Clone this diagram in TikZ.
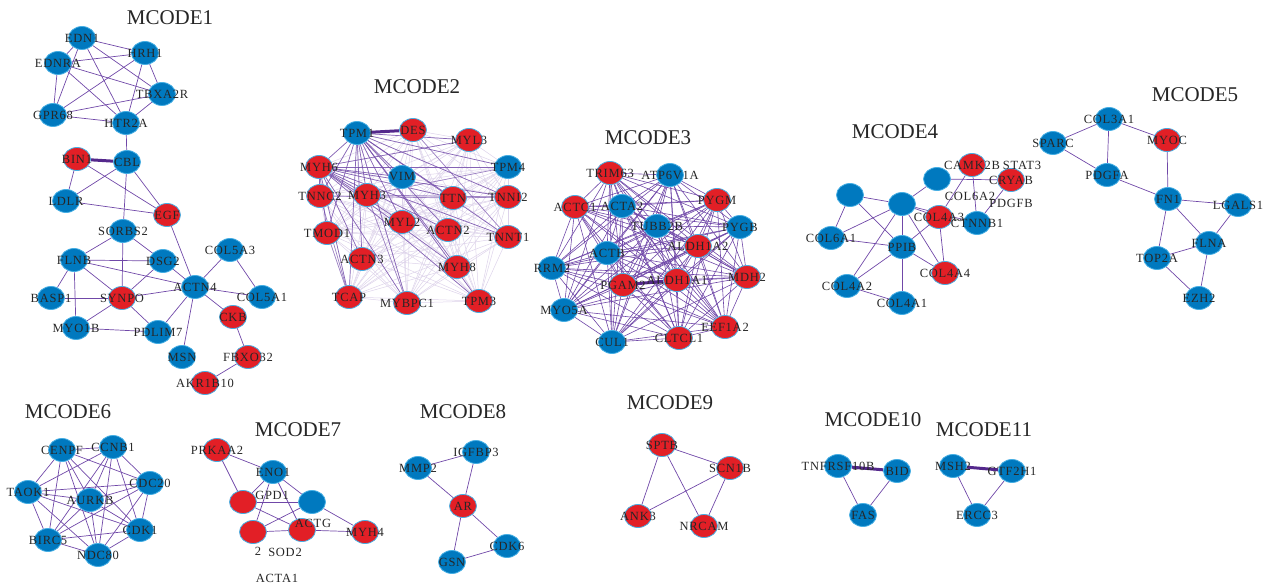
\documentclass[tikz,border=0pt]{standalone}
\usepackage{fontspec}
\setmainfont{Liberation Serif}
\newfontfamily\genefamily[LetterSpace=6]{Liberation Serif}
\newcommand\genefont{\genefamily\fontsize{12.5}{13}\selectfont}
\newcommand\titlefont{\fontsize{21}{24}\selectfont}
\usepackage{tikz}
\usetikzlibrary{shapes.geometric}
\definecolor{nodeblue}{RGB}{0,121,191}
\definecolor{nodered}{RGB}{226,31,38}
\definecolor{nodering}{RGB}{70,175,228}
\definecolor{linkpurple}{RGB}{112,72,168}
\definecolor{linkdark}{RGB}{84,40,140}
\pgfdeclarelayer{bg}
\pgfdeclarelayer{fg}
\pgfsetlayers{bg,main,fg}
\tikzset{
  bn/.style={ellipse, draw=nodering, line width=0.8pt, fill=nodeblue, minimum width=27pt, minimum height=23pt, inner sep=0pt},
  rn/.style={bn, fill=nodered},
  gene/.style={font=\genefont, text=black!85, inner sep=0pt},
  link/.style={draw=linkpurple, line width=0.7pt},
  boldlink/.style={draw=linkdark, line width=3pt},
  faint/.style={draw=linkpurple!24, line width=0.5pt},
  mtitle/.style={font=\titlefont, text=black!85, inner sep=0pt}
}

\begin{document}
\begin{tikzpicture}[x=1pt, y=-1pt]
    \useasboundingbox (0,0) rectangle (1268,588);

    % titles
    \foreach \t/\x/\y in {MCODE1/170/18, MCODE2/417/87, MCODE3/648/138, MCODE4/895/132, MCODE5/1195/95, MCODE6/68/412, MCODE7/298/430, MCODE8/463/412, MCODE9/670/403, MCODE10/873/420, MCODE11/984/430}
        \node[mtitle] (\t) at (\x,\y) {\t};

    % genes
    \foreach \g/\x/\y/\s in {
        EDN1/82/38/bn, HRH1/145/53/bn, EDNRA/58/63/bn, TBXA2R/162/94/bn, GPR68/53/115/bn, HTR2A/126/123/bn,
        BIN1/77/159/rn, CBL/127/162/bn, LDLR/66/201/bn, EGF/167/215/rn, SORBS2/123/231/bn, FLNB/74/260/bn,
        DSG2/163/261/bn, COL5A3/230/250/bn, ACTN4/195/287/bn, COL5A1/262/297/bn, BASP1/51/298/bn, SYNPO/122/298/rn,
        CKB/233/317/rn, MYO1B/76/328/bn, PDLIM7/158/332/bn, FBXO32/248/357/rn, MSN/182/357/bn, AKR1B10/205/383/rn,
        TPM1/357/133/bn, DES/413/130/rn, MYL3/469/140/rn, MYH6/319/167/rn, TPM4/508/167/bn, VIM/402/177/bn,
        TNNC2/320/196/rn, MYH3/367/195/rn, TTN/453/198/rn, TNNI2/508/197/rn, MYL2/402/222/rn, ACTN2/448/230/rn,
        TNNT1/508/237/rn, TMOD1/327/233/rn, ACTN3/362/259/rn, MYH8/457/267/rn, TCAP/349/297/rn, MYBPC1/407/303/rn, TPM3/479/301/rn,
        TRIM63/610/173/rn, ATP6V1A/670/175/bn, PYGM/717/200/rn, ACTC1/575/207/rn, ACTA2/622/206/bn, TUBB2B/657/226/bn,
        PYGB/740/227/bn, ALDH1A2/698/246/rn, ACTB/607/253/bn, RRM2/552/268/bn, MDH2/747/277/rn, PGAM2/623/285/rn,
        ALDH1A1/677/280/rn, MYO5A/564/310/bn, EEF1A2/725/327/rn, CUL1/612/342/bn, CLTCL1/679/338/rn,
        CAMK2B/972/165/rn, CRYAB/1011/180/rn, COL4A3/939/217/rn, CTNNB1/977/223/bn, COL6A1/831/238/bn, PPIB/902/247/bn,
        COL4A4/945/273/rn, COL4A2/847/286/bn, COL4A1/902/303/bn,
        COL3A1/1109/119/bn, MYOC/1167/140/rn, SPARC/1053/143/bn, PDGFA/1107/175/bn, FN1/1168/199/bn, LGALS1/1238/205/bn,
        FLNA/1209/243/bn, TOP2A/1157/258/bn, EZH2/1199/298/bn,
        CENPF/62/450/bn, CCNB1/113/447/bn, CDC20/150/483/bn, TAOK1/28/492/bn, AURKB/90/500/bn, CDK1/140/530/bn,
        BIRC5/48/540/bn, NDC80/98/555/bn,
        PRKAA2/217/450/rn, ENO1/273/472/bn, MYH4/365/532/rn,
        IGFBP3/476/452/bn, MMP2/418/468/bn, AR/463/506/rn, CDK6/507/546/bn, GSN/452/562/bn,
        SPTB/662/445/rn, SCN1B/730/468/rn, ANK3/638/516/rn, NRCAM/704/526/rn,
        TNFRSF10B/838/466/bn, BID/897/471/bn, FAS/863/515/bn,
        MSH2/953/466/bn, GTF2H1/1012/471/bn, ERCC3/977/515/bn}{
        \node[\s] (\g) at (\x,\y) {};
        \begin{pgfonlayer}{fg}\node[gene] at (\g) {\g};\end{pgfonlayer}
    }

    % unlabelled genes
    \foreach \g/\x/\y/\s in {m4a/850/195/bn, m4b/902/204/bn, m4c/937/179/bn, m7a/243/502/rn, m7b/312/502/bn, m7c/253/532/rn, m7d/302/530/rn}
        \node[\s] (\g) at (\x,\y) {};

    % stray labels
    \begin{pgfonlayer}{fg}
    \foreach \t/\x/\y in {STAT3/1022/165, COL6A2/970/196, PDGFB/1011/203, GPD1/272/495, ACTG/313/523, 2/258/551, SOD2/285/552, ACTA1/277/578}
        \node[gene] (lbl\t) at (\x,\y) {\t};
    \end{pgfonlayer}

    \begin{pgfonlayer}{bg}
    % MCODE1
    \foreach \a [count=\i] in {EDN1,HRH1,EDNRA,TBXA2R,GPR68,HTR2A}
        \foreach \b [count=\j] in {EDN1,HRH1,EDNRA,TBXA2R,GPR68,HTR2A}
            {\ifnum\j>\i \draw[link] (\a) -- (\b);\fi}
    \foreach \a/\b in {HTR2A/CBL, BIN1/LDLR, BIN1/EGF, CBL/LDLR, CBL/SORBS2, CBL/EGF, LDLR/EGF, EGF/ACTN4,
        SORBS2/FLNB, SORBS2/DSG2, SORBS2/SYNPO, FLNB/DSG2, FLNB/ACTN4, FLNB/BASP1, FLNB/SYNPO, FLNB/MYO1B,
        DSG2/SYNPO, DSG2/ACTN4, BASP1/SYNPO, SYNPO/ACTN4, SYNPO/MYO1B, SYNPO/PDLIM7, MYO1B/PDLIM7,
        ACTN4/PDLIM7, ACTN4/MSN, ACTN4/COL5A3, ACTN4/COL5A1, ACTN4/CKB, COL5A3/COL5A1, CKB/FBXO32, FBXO32/AKR1B10}
        \draw[link] (\a) -- (\b);
    \draw[boldlink] (BIN1) -- (CBL);

    % MCODE2
    \foreach \a [count=\i] in {TPM1,DES,MYL3,MYH6,TPM4,VIM,TNNC2,MYH3,TTN,TNNI2,MYL2,ACTN2,TNNT1,TMOD1,ACTN3,MYH8,TCAP,MYBPC1,TPM3}
        \foreach \b [count=\j] in {TPM1,DES,MYL3,MYH6,TPM4,VIM,TNNC2,MYH3,TTN,TNNI2,MYL2,ACTN2,TNNT1,TMOD1,ACTN3,MYH8,TCAP,MYBPC1,TPM3}
            {\ifnum\j>\i \draw[faint] (\a) -- (\b);\fi}
    \foreach \b in {MYL3,MYH6,TPM4,VIM,TNNC2,MYH3,TTN,TNNI2,MYL2,ACTN2,TNNT1,TMOD1,ACTN3,MYH8,TCAP,MYBPC1,TPM3}
        \draw[link, draw opacity=0.8] (TPM1) -- (\b);
    \foreach \b in {MYL3,TPM4,VIM,TNNC2,MYH3,TTN,TNNI2,MYL2,ACTN2,TNNT1,TMOD1,ACTN3,MYH8,TCAP,MYBPC1,TPM3}
        \draw[link, draw opacity=0.8] (MYH6) -- (\b);
    \foreach \a/\b in {TNNC2/TTN, TNNC2/TCAP, MYH3/TPM4, TMOD1/TCAP, MYH3/MYBPC1, TTN/TNNI2, DES/TNNT1, MYH3/TNNI2}
        \draw[link, draw opacity=0.6] (\a) -- (\b);
    \draw[boldlink] (TPM1) -- (DES);

    % MCODE3
    \foreach \a [count=\i] in {TRIM63,ATP6V1A,PYGM,ACTC1,ACTA2,TUBB2B,PYGB,ALDH1A2,ACTB,RRM2,MDH2,PGAM2,ALDH1A1,MYO5A,EEF1A2,CUL1,CLTCL1}
        \foreach \b [count=\j] in {TRIM63,ATP6V1A,PYGM,ACTC1,ACTA2,TUBB2B,PYGB,ALDH1A2,ACTB,RRM2,MDH2,PGAM2,ALDH1A1,MYO5A,EEF1A2,CUL1,CLTCL1}
            {\ifnum\j>\i \draw[link, line width=0.6pt] (\a) -- (\b);\fi}
    \draw[boldlink] (PGAM2) -- (ALDH1A1);

    % MCODE4
    \foreach \a/\b in {m4a/m4b, m4a/PPIB, m4a/COL6A1, m4b/m4c, m4b/COL6A1, m4b/PPIB, m4b/COL4A2, m4b/COL4A4, m4b/COL4A3,
        m4b/CTNNB1, m4c/CRYAB, CAMK2B/CTNNB1, CAMK2B/COL4A3, CRYAB/CTNNB1, COL4A3/PPIB, COL4A3/COL4A4,
        COL6A1/PPIB, PPIB/COL4A2, PPIB/COL4A1, PPIB/COL4A4, COL4A2/COL4A1}
        \draw[link] (\a) -- (\b);

    % MCODE5
    \foreach \a/\b in {COL3A1/SPARC, COL3A1/MYOC, COL3A1/PDGFA, SPARC/PDGFA, PDGFA/FN1, MYOC/FN1, FN1/LGALS1,
        FN1/FLNA, FN1/TOP2A, LGALS1/FLNA, FLNA/TOP2A, FLNA/EZH2, TOP2A/EZH2}
        \draw[link] (\a) -- (\b);

    % MCODE6
    \foreach \a [count=\i] in {CENPF,CCNB1,CDC20,TAOK1,AURKB,CDK1,BIRC5,NDC80}
        \foreach \b [count=\j] in {CENPF,CCNB1,CDC20,TAOK1,AURKB,CDK1,BIRC5,NDC80}
            {\ifnum\j>\i \draw[link] (\a) -- (\b);\fi}

    % MCODE7 - MCODE11
    \foreach \a/\b in {PRKAA2/ENO1, PRKAA2/m7a, ENO1/m7a, ENO1/m7c, ENO1/m7b, ENO1/m7d, m7a/m7b, m7a/m7d,
        m7c/m7b, m7c/m7d, m7d/MYH4, m7b/MYH4,
        MMP2/IGFBP3, MMP2/AR, IGFBP3/AR, AR/CDK6, AR/GSN, GSN/CDK6,
        SPTB/SCN1B, SPTB/ANK3, SPTB/NRCAM, SCN1B/ANK3, SCN1B/NRCAM,
        TNFRSF10B/FAS, BID/FAS, MSH2/ERCC3, GTF2H1/ERCC3}
        \draw[link] (\a) -- (\b);
    \draw[boldlink] (TNFRSF10B) -- (BID);
    \draw[boldlink] (MSH2) -- (GTF2H1);
    \end{pgfonlayer}
\end{tikzpicture}
\end{document}
